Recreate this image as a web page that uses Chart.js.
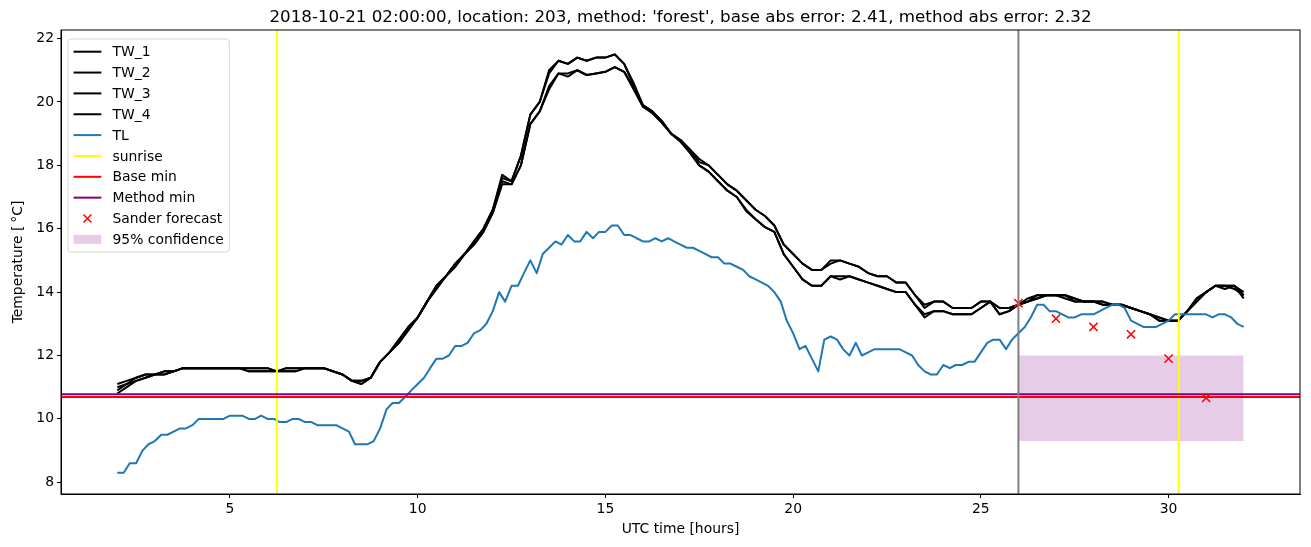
<!DOCTYPE html>
<html>
<head>
<meta charset="utf-8">
<script src="https://cdn.jsdelivr.net/npm/chart.js@4.4.1/dist/chart.umd.min.js"></script>
<style>
  html, body { margin: 0; padding: 0; background: #fff; }
  #chart { display: block; }
</style>
</head>
<body>
<canvas id="chart" width="1311" height="547"></canvas>
<script>
// hours since 2018-10-21 00:00 UTC
var tlHours = [
  2, 2.17, 2.33, 2.5, 2.67, 2.83,  3, 3.17, 3.33, 3.5, 3.67, 3.83,
  4, 4.17, 4.33, 4.5, 4.67, 4.83,  5, 5.17, 5.33, 5.5, 5.67, 5.83,
  6, 6.17, 6.33, 6.5, 6.67, 6.83,  7, 7.17, 7.33, 7.5, 7.67, 7.83,
  8, 8.17, 8.33, 8.5, 8.67, 8.83,  9, 9.17, 9.33, 9.5, 9.67, 9.83,
  10, 10.17, 10.33, 10.5, 10.67, 10.83,  11, 11.17, 11.33, 11.5, 11.67, 11.83,
  12, 12.17, 12.33, 12.5, 12.67, 12.83,  13, 13.17, 13.33, 13.5, 13.67, 13.83,
  14, 14.17, 14.33, 14.5, 14.67, 14.83,  15, 15.17, 15.33, 15.5, 15.67, 15.83,
  16, 16.17, 16.33, 16.5, 16.67, 16.83,  17, 17.17, 17.33, 17.5, 17.67, 17.83,
  18, 18.17, 18.33, 18.5, 18.67, 18.83,  19, 19.17, 19.33, 19.5, 19.67, 19.83,
  20, 20.17, 20.33, 20.5, 20.67, 20.83,  21, 21.17, 21.33, 21.5, 21.67, 21.83,
  22, 22.17, 22.33, 22.5, 22.67, 22.83,  23, 23.17, 23.33, 23.5, 23.67, 23.83,
  24, 24.17, 24.33, 24.5, 24.67, 24.83,  25, 25.17, 25.33, 25.5, 25.67, 25.83,
  26, 26.17, 26.33, 26.5, 26.67, 26.83,  27, 27.17, 27.33, 27.5, 27.67, 27.83,
  28, 28.17, 28.33, 28.5, 28.67, 28.83,  29, 29.17, 29.33, 29.5, 29.67, 29.83,
  30, 30.17, 30.33, 30.5, 30.67, 30.83,  31, 31.17, 31.33, 31.5, 31.67, 31.83,
  32
];
var tlValues = [
  8.3, 8.3, 8.6, 8.6, 9.0, 9.2,  9.3, 9.5, 9.5, 9.6, 9.7, 9.7,
  9.8, 10.0, 10.0, 10.0, 10.0, 10.0,  10.1, 10.1, 10.1, 10.0, 10.0, 10.1,
  10.0, 10.0, 9.9, 9.9, 10.0, 10.0,  9.9, 9.9, 9.8, 9.8, 9.8, 9.8,
  9.7, 9.6, 9.2, 9.2, 9.2, 9.3,  9.7, 10.3, 10.5, 10.5, 10.7, 10.9,
  11.1, 11.3, 11.6, 11.9, 11.9, 12.0,  12.3, 12.3, 12.4, 12.7, 12.8, 13.0,
  13.4, 14.0, 13.7, 14.2, 14.2, 14.6,  15.0, 14.6, 15.2, 15.4, 15.6, 15.5,
  15.8, 15.6, 15.6, 15.9, 15.7, 15.9,  15.9, 16.1, 16.1, 15.8, 15.8, 15.7,
  15.6, 15.6, 15.7, 15.6, 15.7, 15.6,  15.5, 15.4, 15.4, 15.3, 15.2, 15.1,
  15.1, 14.9, 14.9, 14.8, 14.7, 14.5,  14.4, 14.3, 14.2, 14.0, 13.7, 13.1,
  12.7, 12.2, 12.3, 11.9, 11.5, 12.5,  12.6, 12.5, 12.2, 12.0, 12.4, 12.0,
  12.1, 12.2, 12.2, 12.2, 12.2, 12.2,  12.1, 12.0, 11.7, 11.5, 11.4, 11.4,
  11.7, 11.6, 11.7, 11.7, 11.8, 11.8,  12.1, 12.4, 12.5, 12.5, 12.2, 12.5,
  12.7, 12.9, 13.2, 13.6, 13.6, 13.4,  13.4, 13.3, 13.2, 13.2, 13.3, 13.3,
  13.3, 13.4, 13.5, 13.6, 13.6, 13.5,  13.1, 13.0, 12.9, 12.9, 12.9, 13.0,
  13.1, 13.3, 13.3, 13.3, 13.3, 13.3,  13.3, 13.2, 13.3, 13.3, 13.2, 13.0,
  12.9
];

// water temperature sensors, 15 minute readings
var twHours = [
  2, 2.25, 2.5, 2.75,  3, 3.25, 3.5, 3.75,  4, 4.25, 4.5, 4.75,  5, 5.25, 5.5, 5.75,
  6, 6.25, 6.5, 6.75,  7, 7.25, 7.5, 7.75,  8, 8.25, 8.5, 8.75,  9, 9.25, 9.5, 9.75,
  10, 10.25, 10.5, 10.75,  11, 11.25, 11.5, 11.75,  12, 12.25, 12.5, 12.75,  13, 13.25, 13.5, 13.75,
  14, 14.25, 14.5, 14.75,  15, 15.25, 15.5, 15.75,  16, 16.25, 16.5, 16.75,  17, 17.25, 17.5, 17.75,
  18, 18.25, 18.5, 18.75,  19, 19.25, 19.5, 19.75,  20, 20.25, 20.5, 20.75,  21, 21.25, 21.5, 21.75,
  22, 22.25, 22.5, 22.75,  23, 23.25, 23.5, 23.75,  24, 24.25, 24.5, 24.75,  25, 25.25, 25.5, 25.75,
  26, 26.25, 26.5, 26.75,  27, 27.25, 27.5, 27.75,  28, 28.25, 28.5, 28.75,  29, 29.25, 29.5, 29.75,
  30, 30.25, 30.5, 30.75,  31, 31.25, 31.5, 31.75,  32
];
var tw1 = [
  11.1, 11.2, 11.3, 11.4,  11.4, 11.5, 11.5, 11.6,  11.6, 11.6, 11.6, 11.6,  11.6, 11.6, 11.6, 11.6,
  11.6, 11.5, 11.6, 11.6,  11.6, 11.6, 11.6, 11.5,  11.4, 11.2, 11.2, 11.3,  11.8, 12.1, 12.5, 12.9,
  13.2, 13.7, 14.2, 14.5,  14.9, 15.2, 15.6, 16.0,  16.6, 17.7, 17.5, 18.3,  19.6, 20.0, 21.0, 21.3,
  21.2, 21.4, 21.3, 21.4,  21.4, 21.5, 21.2, 20.6,  19.9, 19.7, 19.4, 19.0,  18.8, 18.5, 18.2, 18.0,
  17.7, 17.4, 17.2, 16.9,  16.6, 16.4, 16.1, 15.5,  15.2, 14.9, 14.7, 14.7,  15.0, 15.0, 14.9, 14.8,
  14.6, 14.5, 14.5, 14.3,  14.3, 13.9, 13.5, 13.7,  13.7, 13.5, 13.5, 13.5,  13.7, 13.7, 13.5, 13.5,
  13.6, 13.8, 13.9, 13.9,  13.9, 13.9, 13.8, 13.7,  13.7, 13.7, 13.6, 13.6,  13.5, 13.4, 13.3, 13.2,
  13.1, 13.1, 13.4, 13.7,  14.0, 14.2, 14.1, 14.2,  13.8
];
var tw2 = [
  11.0, 11.1, 11.3, 11.4,  11.4, 11.5, 11.5, 11.6,  11.6, 11.6, 11.6, 11.6,  11.6, 11.6, 11.6, 11.6,
  11.6, 11.5, 11.6, 11.6,  11.6, 11.6, 11.6, 11.5,  11.4, 11.2, 11.2, 11.3,  11.8, 12.1, 12.5, 12.9,
  13.2, 13.7, 14.2, 14.5,  14.9, 15.2, 15.6, 16.0,  16.6, 17.6, 17.5, 18.3,  19.6, 20.0, 20.9, 21.3,
  21.2, 21.4, 21.3, 21.4,  21.4, 21.5, 21.2, 20.5,  19.9, 19.7, 19.4, 19.0,  18.8, 18.5, 18.1, 18.0,
  17.7, 17.4, 17.2, 16.9,  16.6, 16.4, 16.1, 15.5,  15.2, 14.9, 14.7, 14.7,  14.9, 15.0, 14.9, 14.8,
  14.6, 14.5, 14.5, 14.3,  14.3, 13.9, 13.6, 13.7,  13.7, 13.5, 13.5, 13.5,  13.7, 13.7, 13.5, 13.5,
  13.6, 13.7, 13.9, 13.9,  13.9, 13.9, 13.8, 13.7,  13.7, 13.7, 13.6, 13.6,  13.5, 13.4, 13.3, 13.2,
  13.1, 13.1, 13.4, 13.7,  14.0, 14.2, 14.2, 14.2,  13.9
];
var tw3 = [
  10.8, 11.0, 11.2, 11.3,  11.4, 11.4, 11.5, 11.6,  11.6, 11.6, 11.6, 11.6,  11.6, 11.6, 11.5, 11.5,
  11.5, 11.5, 11.5, 11.5,  11.6, 11.6, 11.6, 11.5,  11.4, 11.2, 11.1, 11.3,  11.8, 12.1, 12.4, 12.8,
  13.2, 13.7, 14.1, 14.5,  14.8, 15.2, 15.5, 15.9,  16.5, 17.5, 17.4, 18.0,  19.3, 19.7, 20.5, 20.9,
  20.9, 21.0, 20.85, 20.9,  20.95, 21.1, 20.95, 20.45,  19.85, 19.65, 19.35, 19.0,  18.75, 18.4, 18.0, 17.8,
  17.5, 17.2, 17.0, 16.55,  16.3, 16.05, 15.9, 15.2,  14.8, 14.4, 14.2, 14.2,  14.5, 14.5, 14.5, 14.4,
  14.3, 14.2, 14.1, 14.0,  14.0, 13.6, 13.2, 13.4,  13.4, 13.3, 13.3, 13.3,  13.5, 13.7, 13.3, 13.4,
  13.6, 13.7, 13.8, 13.9,  13.9, 13.8, 13.7, 13.7,  13.7, 13.6, 13.6, 13.6,  13.5, 13.4, 13.3, 13.1,
  13.1, 13.1, 13.4, 13.8,  14.0, 14.2, 14.2, 14.2,  14.0
];
var tw4 = [
  10.9, 11.1, 11.2, 11.3,  11.4, 11.4, 11.5, 11.6,  11.6, 11.6, 11.6, 11.6,  11.6, 11.6, 11.5, 11.5,
  11.5, 11.5, 11.5, 11.5,  11.6, 11.6, 11.6, 11.5,  11.4, 11.2, 11.1, 11.3,  11.8, 12.1, 12.4, 12.8,
  13.2, 13.7, 14.1, 14.5,  14.8, 15.2, 15.5, 15.9,  16.5, 17.4, 17.4, 18.0,  19.3, 19.7, 20.4, 20.9,
  20.8, 21.0, 20.85, 20.9,  20.95, 21.1, 20.95, 20.4,  19.85, 19.65, 19.35, 19.0,  18.75, 18.4, 18.0, 17.8,
  17.5, 17.2, 17.0, 16.6,  16.3, 16.05, 15.9, 15.2,  14.8, 14.4, 14.2, 14.2,  14.5, 14.4, 14.5, 14.4,
  14.3, 14.2, 14.1, 14.0,  14.0, 13.6, 13.3, 13.4,  13.4, 13.3, 13.3, 13.3,  13.5, 13.7, 13.3, 13.4,
  13.6, 13.7, 13.8, 13.9,  13.9, 13.9, 13.7, 13.7,  13.7, 13.6, 13.6, 13.6,  13.5, 13.4, 13.3, 13.1,
  13.1, 13.1, 13.4, 13.8,  14.0, 14.2, 14.2, 14.1,  13.9
];

var sunriseHours = [6.25, 30.27];
var forecastStart = 26;
var baseMin = 10.69;
var methodMin = 10.78;
var sanderHours = [26, 27, 28, 29, 30, 31];
var sanderValues = [13.65, 13.16, 12.9, 12.67, 11.9, 10.66];
var confHours = [26, 32];
var confLow = 9.3;
var confHigh = 12.0;

var xMin = 0.5, xMax = 33.5;
var yMin = 7.63, yMax = 22.27;
var xTickValues = [5, 10, 15, 20, 25, 30];
var xTickLabels = ['5', '10', '15', '20', '25', '30'];
var yTickValues = [8, 10, 12, 14, 16, 18, 20, 22];
var yTickLabels = ['8', '10', '12', '14', '16', '18', '20', '22'];

var titleText = "2018-10-21 02:00:00, location: 203, method: 'forest', base abs error: 2.41, method abs error: 2.32";
var FONT = '"DejaVu Sans", sans-serif';

function pts(xs, ys) {
  return xs.map(function (x, i) { return { x: x, y: ys[i] }; });
}
function vline(x) {
  return [{ x: x, y: yMin }, { x: x, y: yMax }];
}
function hline(y) {
  return [{ x: xMin, y: y }, { x: xMax, y: y }];
}
function lineSet(label, data, color, extra) {
  var ds = {
    label: label, data: data, borderColor: color, backgroundColor: color,
    borderWidth: 2, pointRadius: 0, fill: false, tension: 0,
    borderJoinStyle: 'round', legendKind: 'line'
  };
  for (var k in extra) ds[k] = extra[k];
  return ds;
}

var datasets = [
  lineSet('TW_1', pts(twHours, tw1), '#000000'),
  lineSet('TW_2', pts(twHours, tw2), '#000000'),
  lineSet('TW_3', pts(twHours, tw3), '#000000'),
  lineSet('TW_4', pts(twHours, tw4), '#000000'),
  lineSet('TL', pts(tlHours, tlValues), '#1f77b4'),
  lineSet('sunrise', vline(sunriseHours[0]), '#ffff00'),
  lineSet('sunrise', vline(sunriseHours[1]), '#ffff00', { legendKind: null }),
  lineSet('Base min', hline(baseMin), '#ff0000'),
  lineSet('Method min', hline(methodMin), '#800080'),
  {
    label: 'Sander forecast', data: pts(sanderHours, sanderValues), showLine: false,
    pointStyle: 'crossRot', pointRadius: 5.8, borderWidth: 1.5,
    borderColor: '#ff0000', backgroundColor: '#ff0000', legendKind: 'marker'
  },
  lineSet('forecast start', vline(forecastStart), '#808080', { legendKind: null })
];
var band = {
  label: '95% confidence', data: pts(confHours, [confHigh, confHigh]),
  borderWidth: 0, pointRadius: 0, borderColor: 'rgba(0,0,0,0)',
  backgroundColor: 'rgba(128,0,128,0.2)', fill: { value: confLow }, legendKind: 'patch'
};
// matplotlib draws later artists on top, band below all lines
datasets.forEach(function (ds, i) { ds.order = datasets.length - i; });
band.order = 1000;
var legendOrder = datasets.slice(0, 10).concat([band]);
datasets.push(band);

var mplDecor = {
  id: 'mplDecor',
  afterDraw: function (chart) {
    var ctx = chart.ctx, a = chart.chartArea;
    ctx.save();
    ctx.strokeStyle = '#000';
    ctx.lineWidth = 1;
    ctx.strokeRect(a.left, a.top, a.right - a.left, a.bottom - a.top);

    ctx.fillStyle = '#000';
    ctx.font = '16.7px ' + FONT;
    ctx.textAlign = 'center';
    ctx.textBaseline = 'alphabetic';
    ctx.fillText(titleText, (a.left + a.right) / 2, a.top - 8);

    // legend box, upper left inside axes
    var fs = 13.9;
    var items = legendOrder.filter(function (d) { return d.legendKind; });
    ctx.font = fs + 'px ' + FONT;
    var maxW = 0;
    items.forEach(function (d) { maxW = Math.max(maxW, ctx.measureText(d.label).width); });
    var bx = a.left + 7, by = a.top + 9;
    var pad = 0.4 * fs, handleW = 2 * fs, gap = 0.8 * fs, rowH = 1.5 * fs;
    var bw = pad + handleW + gap + maxW + pad;
    var bh = 2 * 12.7 + (items.length - 1) * rowH;
    ctx.beginPath();
    ctx.roundRect(bx, by, bw, bh, 3);
    ctx.fillStyle = 'rgba(255,255,255,0.8)';
    ctx.fill();
    ctx.strokeStyle = '#d6d6d6';
    ctx.lineWidth = 1;
    ctx.stroke();

    ctx.textAlign = 'left';
    ctx.textBaseline = 'middle';
    items.forEach(function (d, i) {
      var cy = by + 12.7 + i * rowH;
      var hx = bx + pad;
      if (d.legendKind === 'line') {
        ctx.strokeStyle = d.borderColor;
        ctx.lineWidth = 2;
        ctx.beginPath();
        ctx.moveTo(hx, cy);
        ctx.lineTo(hx + handleW, cy);
        ctx.stroke();
      } else if (d.legendKind === 'marker') {
        var cx = hx + handleW / 2, r = 4;
        ctx.strokeStyle = d.borderColor;
        ctx.lineWidth = 1.5;
        ctx.beginPath();
        ctx.moveTo(cx - r, cy - r); ctx.lineTo(cx + r, cy + r);
        ctx.moveTo(cx + r, cy - r); ctx.lineTo(cx - r, cy + r);
        ctx.stroke();
      } else if (d.legendKind === 'patch') {
        ctx.fillStyle = d.backgroundColor;
        ctx.fillRect(hx, cy - 4.5, handleW, 9);
      }
      ctx.fillStyle = '#000';
      ctx.fillText(d.label, hx + handleW + gap, cy + 1);
    });
    ctx.restore();
  }
};

new Chart(document.getElementById('chart'), {
  type: 'line',
  data: { datasets: datasets },
  plugins: [mplDecor],
  options: {
    responsive: false,
    animation: false,
    devicePixelRatio: 1,
    events: [],
    layout: { padding: { top: 30, right: 11, left: 0, bottom: 0 } },
    plugins: { legend: { display: false }, title: { display: false }, tooltip: { enabled: false } },
    scales: {
      x: {
        type: 'linear', min: xMin, max: xMax,
        afterBuildTicks: function (s) { s.ticks = xTickValues.map(function (v) { return { value: v }; }); },
        afterFit: function (s) { s.height = 53; },
        ticks: {
          color: '#000', font: { family: FONT, size: 13.9 }, padding: 3, maxRotation: 0,
          callback: function (v) { return xTickLabels[xTickValues.indexOf(v)]; }
        },
        grid: { drawOnChartArea: false, drawTicks: true, tickLength: 4, color: '#000' },
        border: { display: true, color: '#000' },
        title: { display: true, text: 'UTC time [hours]', color: '#000', font: { family: FONT, size: 13.9 }, padding: { top: 0, bottom: 9 } }
      },
      y: {
        type: 'linear', min: yMin, max: yMax,
        afterBuildTicks: function (s) { s.ticks = yTickValues.map(function (v) { return { value: v }; }); },
        afterFit: function (s) { s.width = 61; },
        ticks: {
          color: '#000', font: { family: FONT, size: 13.9 }, padding: 3,
          callback: function (v) { return yTickLabels[yTickValues.indexOf(v)]; }
        },
        grid: { drawOnChartArea: false, drawTicks: true, tickLength: 4, color: '#000' },
        border: { display: true, color: '#000' },
        title: { display: true, text: 'Temperature [\u2009\u00b0C]', color: '#000', font: { family: FONT, size: 13.9 }, padding: { top: 10, bottom: 0 } }
      }
    }
  }
});
</script>
</body>
</html>
